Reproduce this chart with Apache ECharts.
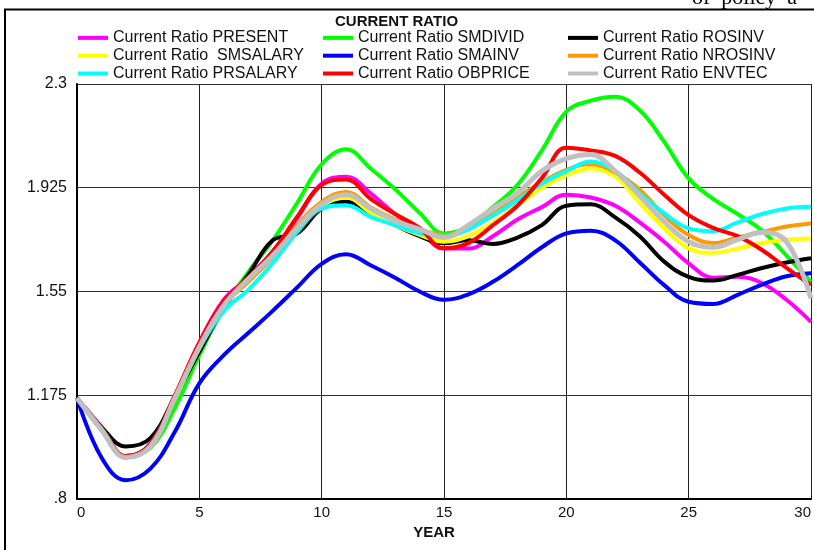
<!DOCTYPE html>
<html>
<head>
<meta charset="utf-8">
<script src="https://cdn.jsdelivr.net/npm/echarts@6/dist/echarts.min.js"></script>
<style>
html,body{margin:0;padding:0;background:#fff;}
#chart{width:814px;height:550px;}
</style>
</head>
<body>
<div id="chart"></div>
<script>
// ---- Data ----
const years = [0,1,2,3,4,5,6,7,8,9,10,11,12,13,14,15,16,17,18,19,20,21,22,23,24,25,26,27,28,29,30];
const xTickLabels = ['0','5','10','15','20','25','30'];
const yTickLabels = ['.8','1.175','1.55','1.925','2.3'];

const present  = [1.165,1.06,0.955,1.0,1.17,1.365,1.52,1.60,1.695,1.815,1.94,1.965,1.905,1.83,1.77,1.705,1.705,1.75,1.81,1.855,1.9,1.89,1.86,1.80,1.73,1.652,1.60,1.603,1.58,1.52,1.44];
const smdivid  = [1.165,1.055,0.955,0.985,1.13,1.32,1.49,1.62,1.735,1.87,2.01,2.064,1.995,1.92,1.835,1.76,1.785,1.855,1.935,2.06,2.2,2.24,2.254,2.205,2.091,1.959,1.885,1.83,1.77,1.68,1.585];
const rosinv   = [1.165,1.06,0.99,1.02,1.17,1.332,1.49,1.61,1.735,1.76,1.85,1.874,1.83,1.79,1.75,1.724,1.735,1.722,1.745,1.79,1.86,1.865,1.818,1.75,1.658,1.603,1.59,1.61,1.635,1.655,1.67];
const smsalary = [1.165,1.055,0.955,0.995,1.165,1.345,1.5,1.59,1.68,1.775,1.86,1.89,1.835,1.79,1.755,1.73,1.75,1.80,1.86,1.925,1.97,1.995,1.965,1.87,1.778,1.706,1.69,1.705,1.725,1.738,1.742];
const smainv   = [1.165,0.95,0.868,0.91,1.043,1.218,1.32,1.40,1.48,1.565,1.65,1.685,1.645,1.60,1.55,1.52,1.54,1.585,1.645,1.71,1.76,1.77,1.735,1.655,1.573,1.513,1.505,1.538,1.575,1.605,1.616];
const nrosinv  = [1.165,1.05,0.955,0.99,1.16,1.35,1.5,1.585,1.675,1.79,1.874,1.91,1.855,1.81,1.775,1.754,1.775,1.83,1.89,1.945,1.99,2.01,1.98,1.918,1.826,1.754,1.725,1.745,1.765,1.785,1.796];
const prsalary = [1.165,1.055,0.955,1.0,1.165,1.345,1.48,1.556,1.653,1.765,1.85,1.862,1.82,1.79,1.76,1.748,1.775,1.825,1.88,1.94,1.985,2.02,1.985,1.905,1.833,1.778,1.768,1.80,1.83,1.85,1.856];
const obprice  = [1.165,1.055,0.955,1.0,1.175,1.365,1.515,1.60,1.695,1.82,1.935,1.955,1.885,1.83,1.78,1.706,1.725,1.79,1.86,1.96,2.07,2.06,2.04,1.98,1.90,1.826,1.78,1.75,1.70,1.635,1.573];
const envtec   = [1.165,1.05,0.95,0.99,1.165,1.35,1.5,1.595,1.68,1.78,1.865,1.90,1.85,1.805,1.775,1.745,1.79,1.85,1.905,1.985,2.03,2.045,1.985,1.895,1.802,1.73,1.71,1.738,1.764,1.73,1.525];

const seriesNames = ['Current Ratio PRESENT','Current Ratio SMDIVID','Current Ratio ROSINV',
  'Current Ratio  SMSALARY','Current Ratio SMAINV','Current Ratio NROSINV',
  'Current Ratio PRSALARY','Current Ratio OBPRICE','Current Ratio ENVTEC'];
const seriesValues = [present, smdivid, rosinv, smsalary, smainv, nrosinv, prsalary, obprice, envtec];
const seriesColors = ['#ff00ff','#00ff00','#000000','#ffff00','#0000ff','#ff9900','#00ffff','#ff0000','#c0c0c0'];
const seriesWidths = [4,4,4,4,4,4,4,4,5];

// ---- Chart ----
const chart = echarts.init(document.getElementById('chart'), null, {renderer:'canvas'});
const FONT = 'Liberation Sans, Arial, sans-serif';

function yLabel(v){
  const r = Number(v.toFixed(3));
  const idx = [0.8,1.175,1.55,1.925,2.3].findIndex(t => Math.abs(t - r) < 1e-6);
  return idx >= 0 ? yTickLabels[idx] : String(r);
}
function xLabel(v){
  const idx = [0,5,10,15,20,25,30].indexOf(Math.round(v));
  return idx >= 0 ? xTickLabels[idx] : String(v);
}

const legendCommon = {
  orient:'vertical', icon:'rect', itemWidth:30, itemHeight:4, itemGap:0,
  padding:0, selectedMode:false,
  textStyle:{fontFamily:FONT, fontSize:16, color:'#111', lineHeight:17.8}
};

const option = {
  backgroundColor:'#ffffff',
  animation:false,
  title:{
    text:'CURRENT RATIO', left:335, top:14, padding:0,
    textStyle:{fontFamily:FONT, fontSize:15, fontWeight:'bold', color:'#111'}
  },
  legend:[
    Object.assign({}, legendCommon, {left:78, top:29, data:[seriesNames[0],seriesNames[3],seriesNames[6]]}),
    Object.assign({}, legendCommon, {left:323, top:29, data:[seriesNames[1],seriesNames[4],seriesNames[7]]}),
    Object.assign({}, legendCommon, {left:568, top:29, data:[seriesNames[2],seriesNames[5],seriesNames[8]]})
  ],
  grid:{left:77, right:0, top:84, bottom:51, containLabel:false},
  xAxis:{
    type:'value', min:0, max:30, interval:5,
    name:'YEAR', nameLocation:'middle', nameGap:22,
    nameTextStyle:{fontFamily:FONT, fontSize:15, fontWeight:'bold', color:'#111', padding:[0,20,0,0]},
    axisLine:{show:true, lineStyle:{color:'#000', width:2}},
    axisTick:{show:false},
    axisLabel:{fontFamily:FONT, fontSize:15, color:'#111', margin:6, formatter:xLabel,
      alignMinLabel:'left', alignMaxLabel:'right'},
    splitLine:{show:true, lineStyle:{color:'#222', width:1}}
  },
  yAxis:{
    type:'value', min:0.8, max:2.3, interval:0.375,
    axisLine:{show:true, lineStyle:{color:'#000', width:2}},
    axisTick:{show:false},
    axisLabel:{fontFamily:FONT, fontSize:16, color:'#111', margin:10, formatter:yLabel},
    splitLine:{show:true, lineStyle:{color:'#333', width:1}}
  },
  graphic:[
    {type:'rect', silent:true, z:100,
      shape:{x:5, y:9.5, width:900, height:600},
      style:{fill:'none', stroke:'#000', lineWidth:2}},
    {type:'text', silent:true, z:100, x:692, y:9,
      style:{text:'of  policy  a', fontSize:22, fontFamily:'Liberation Serif, Times New Roman, serif',
        fill:'#000', verticalAlign:'bottom', align:'left'}}
  ],
  series: seriesNames.map((name,i) => ({
    name:name, type:'line', smooth:0.4, showSymbol:false, symbol:'none',
    color:seriesColors[i],
    lineStyle:{color:seriesColors[i], width:seriesWidths[i]},
    itemStyle:{color:seriesColors[i]},
    data: years.map((y,j) => [y, seriesValues[i][j]])
  }))
};
chart.setOption(option);
</script>
</body>
</html>
